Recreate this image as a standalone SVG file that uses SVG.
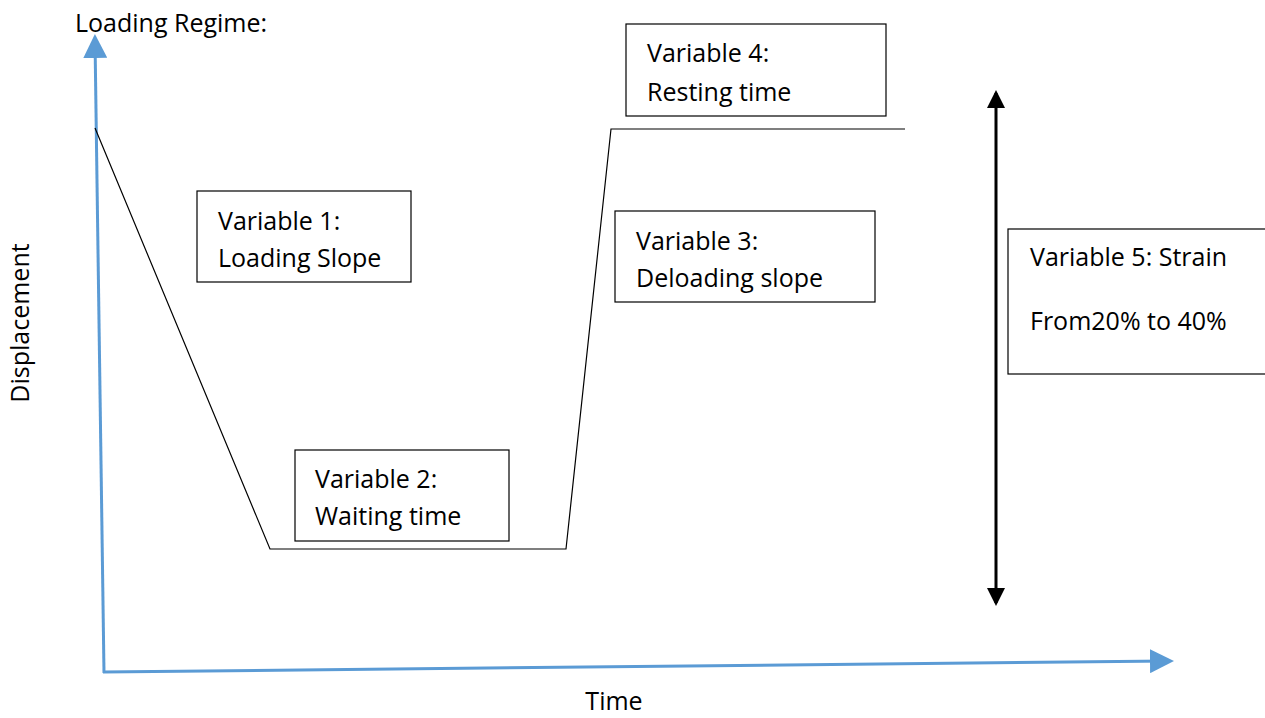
<svg xmlns="http://www.w3.org/2000/svg" width="1265" height="718" viewBox="0 0 1265 718">
<style>
text{font-family:"Open Sans","Liberation Sans",sans-serif;font-size:25px;fill:#000}
.box{fill:#fff;stroke:#000;stroke-width:1.2}
.axis{stroke:#5b9bd5;stroke-width:3;fill:none}
.curve{stroke:#000;stroke-width:1.2;fill:none}
</style>
<defs>
<marker id="ab" markerWidth="8" markerHeight="8" refX="6" refY="4" orient="auto" markerUnits="strokeWidth"><path d="M0,0 L8,4 L0,8 Z" fill="#5b9bd5"/></marker>
<marker id="ak" markerWidth="6" markerHeight="6" refX="5" refY="3" orient="auto-start-reverse" markerUnits="strokeWidth"><path d="M0,0 L6,3 L0,6 Z" fill="#000"/></marker>
</defs>
<rect width="1265" height="718" fill="#fff"/>
<g id="connectors">
<line class="axis" x1="104" y1="673" x2="95" y2="40" marker-end="url(#ab)"/>
<line class="axis" x1="103" y1="672" x2="1168" y2="661" marker-end="url(#ab)"/>
<polyline class="curve" points="95,128 270,549 566,549 611,129 905,129"/>
<line x1="996" y1="93" x2="996" y2="603" stroke="#000" stroke-width="3" marker-start="url(#ak)" marker-end="url(#ak)"/>
</g>
<g id="title"><text x="75" y="32">Loading Regime:</text></g>
<g id="ylabel"><text transform="translate(29,323) rotate(-90)" text-anchor="middle">Displacement</text></g>
<g id="xlabel"><text x="614" y="710" text-anchor="middle">Time</text></g>
<g id="var1"><rect class="box" x="197" y="191" width="214" height="91"/><text x="218" y="230">Variable 1:</text><text x="218" y="267">Loading Slope</text></g>
<g id="var2"><rect class="box" x="295" y="450" width="214" height="91"/><text x="315" y="488">Variable 2:</text><text x="315" y="525">Waiting time</text></g>
<g id="var3"><rect class="box" x="615" y="211" width="260" height="91"/><text x="636" y="250">Variable 3:</text><text x="636" y="287">Deloading slope</text></g>
<g id="var4"><rect class="box" x="626" y="24" width="260" height="92"/><text x="647" y="62">Variable 4:</text><text x="647" y="101">Resting time</text></g>
<g id="var5"><rect class="box" x="1008" y="229" width="262" height="145"/><text x="1030" y="266">Variable 5: Strain</text><text x="1030" y="330">From20% to 40%</text></g>
</svg>
